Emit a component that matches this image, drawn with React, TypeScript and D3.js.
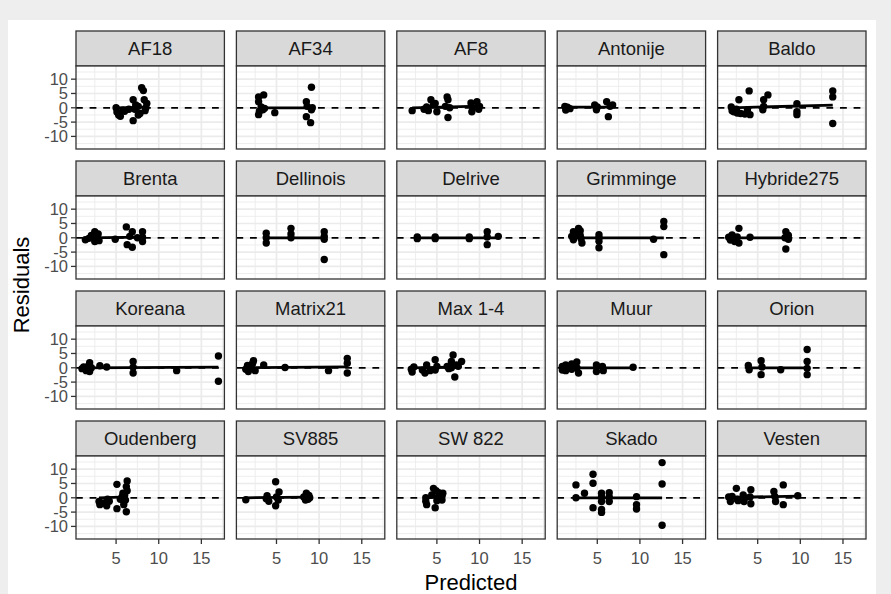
import React from "react";
import * as d3 from "d3";

const varieties = [
  "AF18", "AF34", "AF8", "Antonije", "Baldo",
  "Brenta", "Dellinois", "Delrive", "Grimminge", "Hybride275",
  "Koreana", "Matrix21", "Max 1-4", "Muur", "Orion",
  "Oudenberg", "SV885", "SW 822", "Skado", "Vesten",
];

const predicted = [
  [5.0, 5.1, 5.3, 5.5, 5.8, 6.0, 7.0, 7.0, 7.3, 7.6, 7.6, 7.8, 8.0, 8.2, 8.3, 8.5, 8.6, 8.4, 7.2, 6.5],
  [2.9, 3.5, 2.9, 3.2, 2.9, 3.4, 3.0, 3.6, 4.8, 8.5, 8.6, 9.1, 9.1, 8.5, 9.0, 9.2],
  [2.1, 3.5, 3.8, 4.3, 4.6, 5.0, 4.0, 4.8, 6.2, 6.3, 6.3, 6.0, 6.5, 9.0, 9.2, 9.1, 9.7, 10.0, 9.9],
  [1.2, 1.3, 1.5, 1.8, 4.7, 4.9, 5.0, 6.1, 6.3, 6.8, 6.5],
  [1.9, 2.0, 2.2, 2.5, 2.8, 2.6, 3.0, 3.5, 4.0, 4.1, 3.8, 5.6, 5.7, 6.2, 5.7, 9.6, 9.6, 9.6, 13.8, 13.8, 13.8],
  [1.4, 1.8, 2.1, 2.5, 2.5, 2.8, 2.9, 3.0, 4.9, 6.2, 6.3, 6.6, 6.9, 6.9, 7.5, 8.1, 8.1, 8.1],
  [3.8, 3.8, 3.8, 6.7, 6.7, 6.7, 10.6, 10.6, 10.6, 10.6],
  [2.7, 2.7, 4.8, 4.8, 8.8, 8.8, 10.9, 10.9, 10.9, 12.2],
  [2.0, 2.2, 2.2, 2.5, 2.8, 3.0, 3.1, 3.2, 3.0, 5.2, 5.2, 5.2, 5.2, 11.6, 12.8, 12.8, 12.8],
  [1.6, 1.8, 2.0, 2.3, 2.6, 2.8, 2.8, 4.1, 8.2, 8.3, 8.5, 8.6, 8.3, 8.6],
  [1.0, 1.2, 1.5, 1.7, 1.9, 1.9, 2.1, 3.1, 3.9, 7.0, 7.0, 7.0, 12.1, 17.0, 17.0],
  [1.4, 1.6, 1.7, 2.0, 2.3, 2.5, 2.2, 3.5, 6.0, 11.1, 13.3, 13.3, 13.3],
  [2.0, 2.1, 2.3, 3.3, 3.6, 3.8, 4.2, 4.8, 4.8, 5.0, 6.2, 6.4, 6.7, 6.7, 6.9, 7.1, 7.3, 7.9, 7.5],
  [0.9, 0.9, 1.3, 1.3, 1.6, 2.0, 2.0, 2.6, 2.6, 2.8, 4.9, 4.9, 5.6, 5.7, 9.2],
  [3.9, 4.0, 5.4, 5.4, 5.5, 7.7, 10.8, 10.8, 10.8, 10.8],
  [3.0, 3.1, 3.5, 3.9, 4.0, 4.2, 5.1, 5.1, 5.5, 5.8, 5.9, 5.9, 6.0, 6.2, 6.3, 6.3, 6.2, 6.1, 5.7],
  [1.4, 3.8, 3.9, 4.1, 4.9, 4.9, 5.0, 5.3, 5.2, 8.2, 8.5, 8.7, 8.8, 8.4, 8.9],
  [3.7, 3.7, 3.8, 4.4, 4.6, 4.8, 4.9, 5.0, 5.2, 5.4, 5.5, 5.6, 5.7, 5.6, 5.1],
  [2.5, 2.5, 3.5, 4.5, 4.5, 4.5, 5.5, 5.5, 5.5, 5.5, 5.5, 6.4, 6.4, 6.4, 9.6, 9.6, 9.6, 12.6, 12.6, 12.6],
  [1.6, 1.8, 2.0, 2.5, 2.6, 2.7, 3.3, 3.4, 3.5, 4.2, 4.2, 4.1, 6.9, 7.1, 7.0, 8.0, 8.0, 9.7],
];

const residuals = [
  [0.0, -1.5, -2.5, -3.0, -0.8, -1.2, 2.8, -4.5, 1.0, 0.5, -2.5, -2.0, 7.0, 6.0, 2.8, 0.0, 1.5, -1.0, -0.5, -0.5],
  [3.8, 4.5, 2.1, 0.3, -2.4, -0.7, -1.2, -0.2, -1.7, 2.1, 0.5, 7.2, -0.7, -3.1, -5.2, 0.0],
  [-1.0, -0.5, 0.3, 2.8, 1.0, -1.4, -1.0, 1.5, 3.8, 2.8, -3.4, 0.5, 0.0, 1.7, 0.0, -1.4, 2.1, 0.5, -0.5],
  [0.5, -0.8, 0.2, -0.3, 1.0, -0.7, 0.3, 2.1, -3.1, 1.0, 0.5],
  [0.3, -1.0, -1.4, -0.5, 2.8, -1.8, -2.0, -2.2, 5.9, -2.4, -0.8, -0.7, 2.8, 4.5, 0.5, 1.4, -2.4, -1.4, 5.9, 3.8, -5.5],
  [-0.7, -0.2, 0.8, 2.1, -1.3, -0.5, 1.3, -1.0, -0.5, 3.8, -2.4, 0.5, 2.1, -3.3, 0.0, 2.1, -1.3, 0.2],
  [1.6, -1.8, 0.0, 3.3, 0.0, 1.3, 2.1, 0.5, -0.5, -7.6],
  [0.3, -0.3, 0.3, -0.3, 0.3, -0.3, 2.1, -2.4, 0.3, 0.5],
  [0.5, 2.1, -0.7, 1.5, 3.3, 2.5, -0.3, -1.8, 0.8, 1.1, -1.2, -3.5, 0.0, -0.5, 5.7, 3.9, -5.9],
  [0.2, -0.8, 1.0, -1.3, 0.3, 3.3, -1.8, 0.2, 0.0, 2.1, 1.0, -0.5, -3.9, 0.8],
  [-0.3, 0.3, -1.0, 0.5, 1.8, -1.3, 0.0, 0.7, 0.3, 2.2, -1.8, 0.2, -1.0, 4.1, -4.7],
  [-0.5, 0.8, -1.3, 0.3, 2.5, -1.0, 1.5, 1.0, 0.1, -1.0, 3.3, 1.6, -1.8],
  [-0.5, -1.5, 0.3, -0.8, -1.8, 1.0, -1.0, 2.8, -0.8, 0.5, 0.5, -0.3, 2.2, 0.0, 4.5, -3.2, 1.0, 2.2, 0.5],
  [0.5, -0.8, 1.0, -1.0, 0.3, 1.3, -0.5, 2.0, 0.0, -1.8, 1.0, -1.3, 0.5, -1.0, 0.2],
  [0.8, -0.7, 2.5, -2.4, 0.3, -0.7, 6.4, 2.2, -0.2, -2.4],
  [-1.3, -2.4, -1.8, -2.8, -0.5, -1.2, 4.7, -3.8, -0.5, 1.6, -1.0, -2.4, 0.8, 3.9, 5.9, 2.5, -4.9, -0.8, 0.3],
  [-0.7, -0.3, 0.7, -1.2, 5.6, -2.8, 0.3, 2.0, -0.8, 0.3, 1.6, -0.5, 0.8, -0.8, 0.0],
  [0.0, -1.2, -2.4, 1.0, 3.3, -3.5, 2.5, -1.0, 1.8, 1.5, -0.3, 0.5, 1.6, -0.8, 0.0],
  [4.5, 0.0, 1.6, 8.2, 5.1, -3.5, 1.6, -4.1, -5.1, -1.3, 0.3, 1.8, -1.3, 0.3, 0.4, -2.4, -3.9, 12.3, 4.8, -9.6],
  [0.3, -1.3, 0.5, 3.3, -0.5, -1.0, 1.0, -1.3, 0.0, 2.8, -2.1, 0.3, 2.2, -1.3, 0.5, 4.5, -2.4, 0.7],
];

// fitted trend at the left and right end of each panel's data
const trendStart = [0, 0, 0, 0.2, 0, 0, 0, 0, 0, 0, 0, 0, 0, 0, 0, 0, 0, 0, 0, 0.1];
const trendEnd = [0.2, 0, 0.6, 0.2, 0.9, 0.2, 0, 0, 0, 0, 0.2, 0.3, 0.3, 0, 0, 0.3, 0.2, 0.3, 0, 0.6];

const xTicks = [5, 10, 15];
const xMinor = [2.5, 7.5, 12.5, 17.5];
const yTicks = [-10, -5, 0, 5, 10];
const yMinor = [-12.5, -7.5, -2.5, 2.5, 7.5, 12.5];

const W = 891;
const H = 594;
const left = 76;
const top = 31;
const panelW = 148.4;
const gap = 12;
const stripH = 35;
const panelH = 83;
const rowStep = 130;
const font = "'Liberation Sans', Arial, sans-serif";

export default function App() {
  const x = d3.scaleLinear().domain([0.3, 17.7]).range([0, panelW]);
  const y = d3.scaleLinear().domain([-14.4, 14.6]).range([panelH, 0]);
  const nRows = 4;
  const bottom = top + (nRows - 1) * rowStep + stripH + panelH;

  return (
    <div style={{ position: "absolute", left: 0, top: 0 }}>
      <svg width={W} height={H} style={{ display: "block" }}>
        <rect x={0} y={0} width={W} height={H} fill="#eeeeee" />
        <rect x={8} y={20} width={868} height={H - 20} fill="#ffffff" />

        {varieties.map((name, i) => {
          const col = i % 5;
          const row = Math.floor(i / 5);
          const px = left + col * (panelW + gap);
          const py = top + row * rowStep;
          const pts = predicted[i].map((p, j) => [p, residuals[i][j]]);
          const [x0, x1] = d3.extent(predicted[i]) as [number, number];
          return (
            <g key={name}>
              <g transform={`translate(${px},${py})`}>
                <rect width={panelW} height={stripH} fill="#d9d9d9" stroke="#333333" strokeWidth={1.3} />
                <text x={panelW / 2} y={stripH / 2} dy="0.35em" textAnchor="middle"
                  fontFamily={font} fontSize={18.5} fill="#1a1a1a">{name}</text>
              </g>
              <g transform={`translate(${px},${py + stripH})`}>
                <rect width={panelW} height={panelH} fill="#ffffff" />
                {yMinor.map(v => (
                  <line key={"ym" + v} x1={0} x2={panelW} y1={y(v)} y2={y(v)} stroke="#ebebeb" strokeWidth={0.9} />
                ))}
                {xMinor.map(v => (
                  <line key={"xm" + v} x1={x(v)} x2={x(v)} y1={0} y2={panelH} stroke="#ebebeb" strokeWidth={0.9} />
                ))}
                {yTicks.map(v => (
                  <line key={"yM" + v} x1={0} x2={panelW} y1={y(v)} y2={y(v)} stroke="#ebebeb" strokeWidth={1.7} />
                ))}
                {xTicks.map(v => (
                  <line key={"xM" + v} x1={x(v)} x2={x(v)} y1={0} y2={panelH} stroke="#ebebeb" strokeWidth={1.7} />
                ))}
                <line x1={0} x2={panelW} y1={y(0)} y2={y(0)} stroke="#000" strokeWidth={1.7} strokeDasharray="6.8,6.8" />
                <line x1={x(x0)} x2={x(x1)} y1={y(trendStart[i])} y2={y(trendEnd[i])} stroke="#000" strokeWidth={2.8} />
                {pts.map((d, j) => (
                  <circle key={j} cx={x(d[0])} cy={y(d[1])} r={3.7} fill="#000" />
                ))}
                <rect width={panelW} height={panelH} fill="none" stroke="#333333" strokeWidth={1.3} />
                {col === 0 && yTicks.map(v => (
                  <g key={"yt" + v}>
                    <line x1={-5} x2={0} y1={y(v)} y2={y(v)} stroke="#333333" strokeWidth={1.3} />
                    <text x={-8} y={y(v)} dy="0.35em" textAnchor="end" fontFamily={font} fontSize={16.5} fill="#4d4d4d">{v}</text>
                  </g>
                ))}
                {row === nRows - 1 && xTicks.map(v => (
                  <g key={"xt" + v}>
                    <line x1={x(v)} x2={x(v)} y1={panelH} y2={panelH + 5} stroke="#333333" strokeWidth={1.3} />
                    <text x={x(v)} y={panelH + 19} dy="0.35em" textAnchor="middle" fontFamily={font} fontSize={16.5} fill="#4d4d4d">{v}</text>
                  </g>
                ))}
              </g>
            </g>
          );
        })}

        <text x={(left + left + 5 * panelW + 4 * gap) / 2} y={bottom + 43} dy="0.35em" textAnchor="middle"
          fontFamily={font} fontSize={22} fill="#000">Predicted</text>
        <text transform={`translate(21,${(top + bottom) / 2}) rotate(-90)`} dy="0.35em" textAnchor="middle"
          fontFamily={font} fontSize={22} fill="#000">Residuals</text>
      </svg>
    </div>
  );
}
